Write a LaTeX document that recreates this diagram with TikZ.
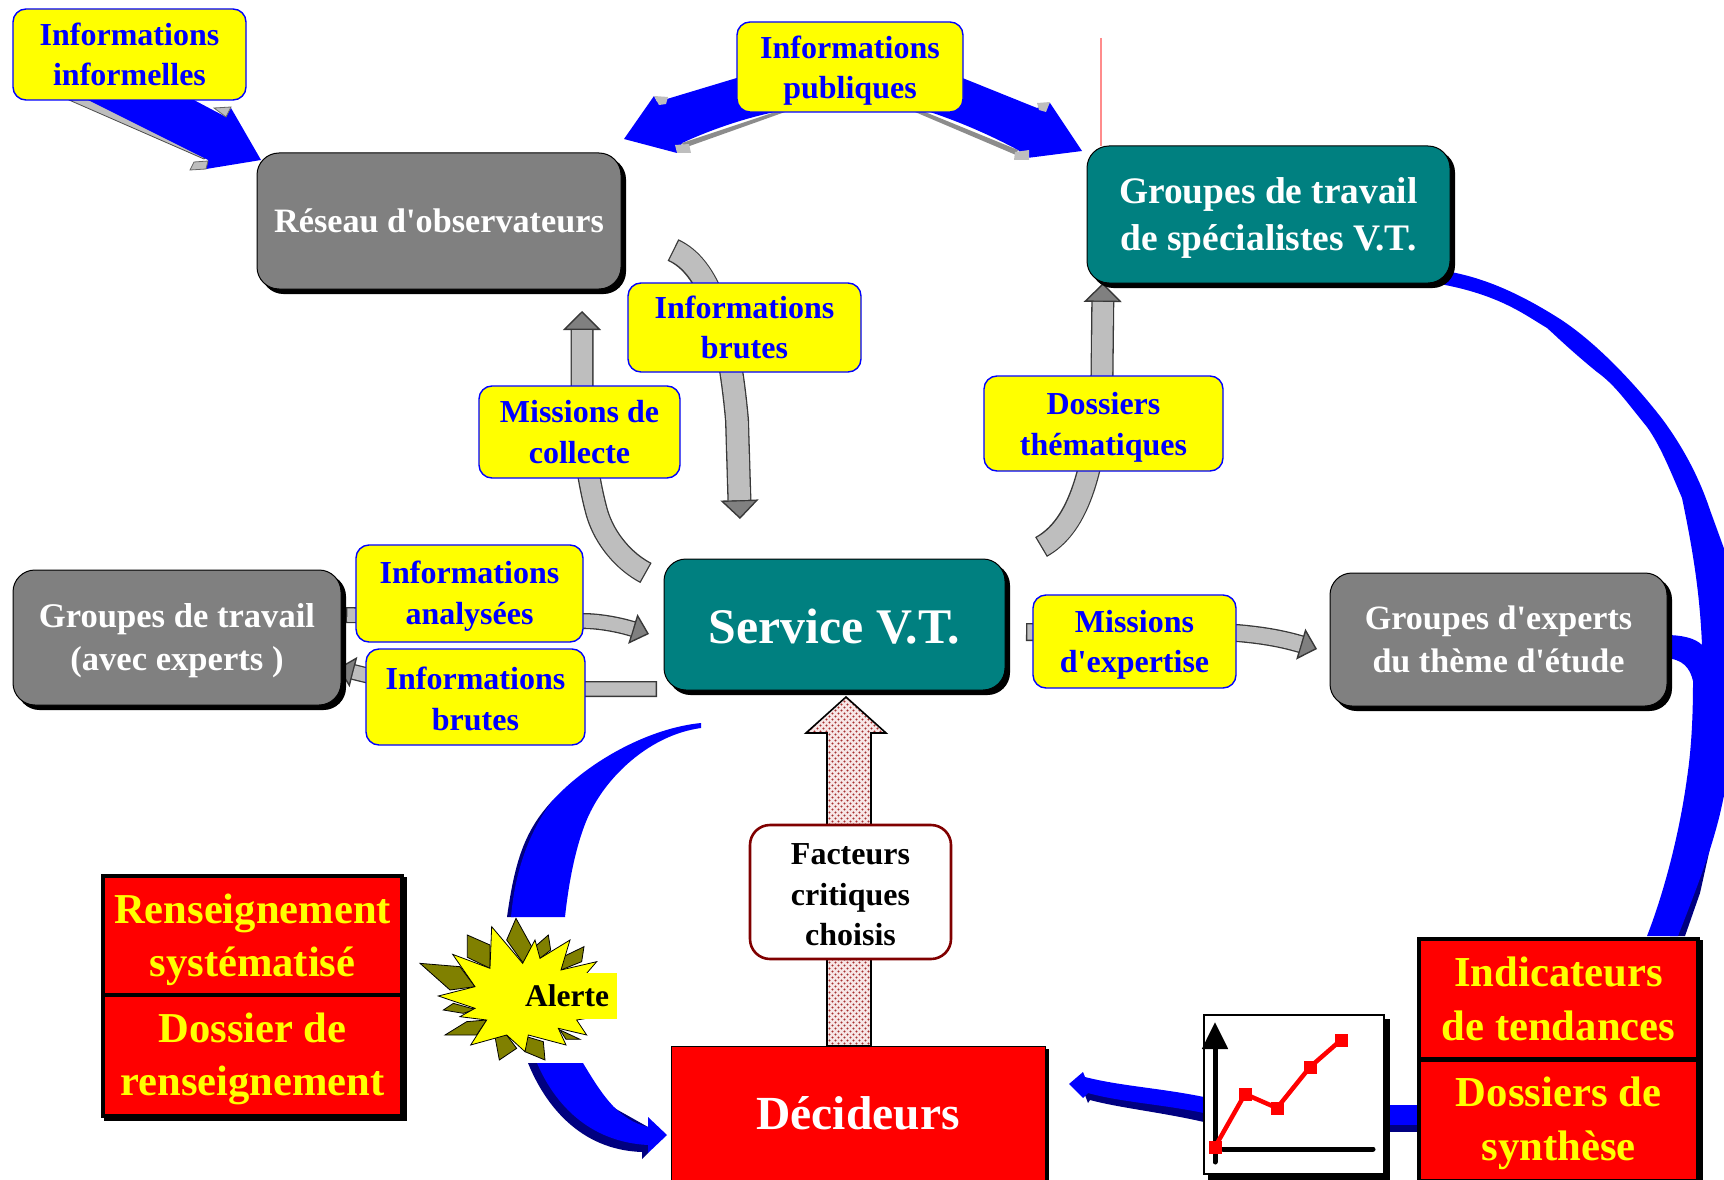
\documentclass[tikz,border=0pt]{standalone}
\usepackage{fontspec}
\setmainfont{Liberation Serif}[Ligatures=TeXOff]
\usetikzlibrary{arrows.meta,shadows,backgrounds,patterns}
\definecolor{vtteal}{HTML}{008080}
\definecolor{vtgray}{HTML}{808080}
\definecolor{vtblue}{HTML}{0000FF}
\definecolor{vtyellow}{HTML}{FFFF00}
\definecolor{vtred}{HTML}{FF0000}
\definecolor{vtblock}{HTML}{BEBEBE}
\definecolor{vtnavy}{HTML}{000080}
\definecolor{vtolive}{HTML}{808000}
\definecolor{vtmaroon}{HTML}{800000}
\definecolor{vtpink}{HTML}{F7E6E6}
\definecolor{vtdot}{HTML}{A83030}
\pgfdeclarepatterninherentlycolored{vtdots}{\pgfpoint{-0.5pt}{-0.5pt}}{\pgfpoint{6.5pt}{6.5pt}}{\pgfpoint{6pt}{6pt}}{%
  \pgfsetfillcolor{vtdot}%
  \pgfpathcircle{\pgfpoint{1.5pt}{1.5pt}}{1.1pt}\pgfusepath{fill}%
  \pgfpathcircle{\pgfpoint{4.5pt}{4.5pt}}{1.1pt}\pgfusepath{fill}%
}
\newcommand\tp[1]{\rule{0pt}{#1pt}}
\tikzset{
  every node/.style={align=center,inner sep=0pt,font=\bfseries},
  tag/.style={draw=vtblue,fill=vtyellow,text=vtblue,line width=1.4pt,rounded corners=13pt,
    font=\bfseries\fontsize{32}{40.5}\selectfont},
  bigbox/.style={rounded corners=22pt,draw=black,line width=1pt,text=white,
    copy shadow={shadow xshift=4.5pt,shadow yshift=-4.5pt,fill=black,draw=black}},
  tealbox/.style={bigbox,fill=vtteal},
  graybox/.style={bigbox,fill=vtgray},
  redbox/.style={draw=black,fill=vtred,text=vtyellow,line width=4pt,
    font=\bfseries\fontsize{42.6}{53.5}\selectfont},
  blueshape/.style={fill=vtblue,draw=none},
  navyshape/.style={fill=vtnavy,draw=none},
  tabshape/.style={fill=vtblock,draw=black!60,line width=.8pt},
  starback/.style={fill=vtolive,draw=black,line width=.8pt},
  starfront/.style={fill=vtyellow,draw=black,line width=.8pt},
  gouter/.style={draw=black!78},
  ginner/.style={draw=vtblock}
}
\newcommand\blockarrow[4]{%
  \draw[gouter,line width=#1pt,-{Triangle[length=#2pt,width=#3pt,fill=vtgray,line width=1.4pt]}] #4;
  \draw[ginner,line width=#1pt-2.6pt,shorten <=1.3pt,shorten >=#2pt] #4;}
\begin{document}
\begin{tikzpicture}[x=1pt,y=-1pt]
\useasboundingbox (0,0) rectangle (1724,1180);
\clip (0,0) rectangle (1724,1180);

% ---------- labels and boxes
\node[tag,minimum width=233pt,minimum height=91pt] (informelles) at (129.5,54.5) {Informations\\informelles};
\node[tag,minimum width=226pt,minimum height=90pt] (publiques) at (850,67) {\tp{30}Informations\\publiques};
\node[graybox,minimum width=364pt,minimum height=136pt,font=\bfseries\fontsize{34.2}{42}\selectfont] (reseau) at (439,221) {Réseau d'observateurs};
\node[tealbox,minimum width=363pt,minimum height=137pt,font=\bfseries\fontsize{37.4}{47}\selectfont] (specialistes) at (1268.5,214.5) {\tp{33.5}Groupes de travail\\de spécialistes V.T.};
\node[tag,minimum width=233pt,minimum height=89pt] (brutesa) at (744.5,327.5) {Informations\\brutes};
\node[tag,minimum width=201pt,minimum height=92pt] (collecte) at (579.5,432) {Missions de\\collecte};
\node[tag,minimum width=239pt,minimum height=95pt] (thematiques) at (1103.5,423.5) {\tp{30}Dossiers\\thématiques};
\node[graybox,minimum width=328pt,minimum height=135pt,font=\bfseries\fontsize{34.6}{43}\selectfont] (avecexperts) at (177,637.5) {\tp{30}Groupes de travail\\(avec experts )};
\node[tag,minimum width=227pt,minimum height=97pt] (analysees) at (469.5,593.5) {\tp{28}Informations\\analysées};
\node[tag,minimum width=219pt,minimum height=96pt] (brutesb) at (475.5,697) {\tp{26}Informations\\brutes};
\node[tealbox,minimum width=341pt,minimum height=131pt,font=\bfseries\fontsize{49.8}{56}\selectfont] (service) at (834.5,624.5) {\tp{38}Service V.T.};
\node[tag,minimum width=203pt,minimum height=93pt] (expertise) at (1134.5,641.5) {\tp{29}Missions\\d'expertise};
\node[graybox,minimum width=337pt,minimum height=133pt,font=\bfseries\fontsize{34.1}{43}\selectfont] (experts) at (1498.5,639.5) {Groupes d'experts\\du thème d'étude};
\node[draw=vtmaroon,fill=white,line width=2.6pt,rounded corners=20pt,text=black,minimum width=201pt,minimum height=134pt,font=\bfseries\fontsize{32}{40.5}\selectfont] (facteurs) at (850.5,892) {\tp{27}Facteurs\\critiques\\choisis};
\node[redbox,minimum width=299pt,minimum height=120pt,copy shadow={shadow xshift=3pt,shadow yshift=-3pt,fill=black,draw=black}] (renseignement) at (252.5,936) {\tp{37}Renseignement\\systématisé};
\node[redbox,minimum width=299pt,minimum height=121pt,copy shadow={shadow xshift=3pt,shadow yshift=-3pt,fill=black,draw=black}] (dossier) at (252.5,1055) {\tp{37}Dossier de\\renseignement};
\node[draw=black,fill=vtred,text=white,line width=1pt,minimum width=374pt,minimum height=134pt,font=\bfseries\fontsize{47.5}{56}\selectfont,copy shadow={shadow xshift=3pt,shadow yshift=-3pt,fill=black,draw=black}] (decideurs) at (858,1113) {Décideurs};
\node[draw=black,fill=white,line width=2pt,minimum width=180pt,minimum height=159pt,copy shadow={shadow xshift=5pt,shadow yshift=-5pt,fill=black,draw=black}] (graphe) at (1293.5,1094.5) {};
\node[redbox,minimum width=279pt,minimum height=120pt,font=\bfseries\fontsize{42.7}{54}\selectfont,copy shadow={shadow xshift=3pt,shadow yshift=-3pt,fill=black,draw=black}] (indicateurs) at (1558.5,999) {Indicateurs\\de tendances};
\node[redbox,minimum width=279pt,minimum height=121pt,font=\bfseries\fontsize{42.7}{54}\selectfont,copy shadow={shadow xshift=3pt,shadow yshift=-3pt,fill=black,draw=black}] (synthese) at (1558.5,1120) {\tp{37}Dossiers de\\synthèse};

% ---------- free ends of the connectors
\coordinate (brutesStart) at (673,250);
\coordinate (brutesEnd) at (740,519);
\coordinate (collecteStart) at (646,573);
\coordinate (collecteEnd) at (582,311);
\coordinate (dossiersStart) at (1041,547);
\coordinate (dossiersEnd) at (1103,283);
\coordinate (expertiseStart) at (1026,632);
\coordinate (expertiseEnd) at (1317,649);
\coordinate (analyseesStart) at (346,615);
\coordinate (analyseesEnd) at (649,634);
\coordinate (brutesbStart) at (657,689);
\coordinate (brutesbEnd) at (338,668);
\coordinate (facteursTip) at (846,697);
\coordinate (facteursFoot) at (849,1046);

% ---------- chart inside the framed graph
\draw[line width=5pt,line cap=round,-{Triangle[length=27pt,width=25pt]}] (1215,1162) -- (1215,1022);
\draw[line width=5pt,line cap=round] (1223,1149) -- (1373,1149);
\draw[vtred,line width=4.5pt] (1215,1147) -- (1245,1094) -- (1277,1108) -- (1310,1067) -- (1341,1040);
\foreach \p in {(1215,1147),(1245,1094),(1277,1108),(1310,1067),(1341,1040)}
  \fill[vtred] \p ++(-6.5,-6.5) rectangle ++(13,13);

% ---------- starburst with its label
\begin{scope}[shift={(380,720)},x=0.33333pt,y=-0.33333pt]
  \draw[starback] (120,730) -- (240,740) -- (285,800) -- (210,810) -- cycle;
  \draw[starback] (262,645) -- (330,675) -- (330,745) -- (262,712) -- cycle;
  \draw[starback] (408,595) -- (455,680) -- (430,730) -- (380,660) -- cycle;
  \draw[starback] (465,680) -- (505,645) -- (512,690) -- (480,715) -- cycle;
  \draw[starback] (550,710) -- (612,680) -- (605,725) -- (543,750) -- cycle;
  \draw[starback] (195,945) -- (260,905) -- (320,900) -- (290,945) -- cycle;
  \draw[starback] (190,870) -- (220,850) -- (285,868) -- (250,880) -- cycle;
  \draw[starback] (345,950) -- (380,945) -- (410,985) -- (358,1020) -- cycle;
  \draw[starback] (440,950) -- (490,965) -- (495,1020) -- (435,995) -- cycle;
  \draw[starback] (540,930) -- (600,958) -- (558,958) -- cycle;
  \draw[starfront] (335,620) -- (428,730) -- (465,660) -- (480,715) -- (570,660) -- (543,750) -- (650,725) -- (620,760) -- (620,895) -- (590,900) -- (620,945) -- (535,925) -- (558,975) -- (445,945) -- (435,995) -- (380,945) -- (272,975) -- (320,900) -- (240,890) -- (285,865) -- (175,828) -- (285,800) -- (218,703) -- (330,745) -- cycle;
\end{scope}
\node[fill=vtyellow,minimum width=93pt,minimum height=46pt,font=\bfseries\fontsize{31.5}{36}\selectfont] (alerte) at (567,996) {Alerte};
\fill[vtyellow] (alerte.north east) rectangle ++(3.5,46);

% ---------- red marker line
\draw[red!45,line width=1.3pt] (1101,38) -- (1101,146);

% ---------- connectors, all behind the nodes
\begin{scope}[on background layer]
  % large blue arc: specialists -> indicators, with a branch to the experts
  \fill[vtnavy] (1723,790) -- (1700,893) -- (1685,936) -- (1670,936) -- (1700,860) -- cycle;
  \fill[blueshape] (1445,271) .. controls (1490,278) and (1530,300) .. (1560,319)
     .. controls (1600,345) and (1640,390) .. (1663,420)
     .. controls (1685,450) and (1700,480) .. (1710,510)
     -- (1730,565) -- (1730,770) -- (1723,800)
     .. controls (1715,840) and (1700,880) .. (1678,936)
     -- (1647,936)
     .. controls (1665,890) and (1680,830) .. (1687,778)
     .. controls (1692,745) and (1693,710) .. (1693,681)
     .. controls (1690,668) and (1683,659) .. (1665,658)
     -- (1665,635)
     .. controls (1682,635) and (1695,638) .. (1702,645)
     .. controls (1700,600) and (1695,560) .. (1682,498)
     .. controls (1670,470) and (1660,445) .. (1647,427)
     .. controls (1625,400) and (1615,385) .. (1597,372)
     .. controls (1570,350) and (1555,335) .. (1547,328)
     .. controls (1525,315) and (1500,295) .. (1440,284) -- cycle;

  % left blue arc, upper part
  \fill[vtnavy] (507,917) .. controls (515,860) and (525,830) .. (553,800) -- (556,800) .. controls (530,840) and (518,870) .. (514,917) -- cycle;
  \fill[blueshape] (701,723) .. controls (650,728) and (590,760) .. (553,800)
     .. controls (530,830) and (515,870) .. (511,917) -- (565,917)
     .. controls (570,870) and (580,830) .. (593,807)
     .. controls (610,775) and (650,735) .. (701,728) -- cycle;
  % left blue arc, lower part
  \fill[vtnavy] (528,1063) .. controls (545,1105) and (580,1150) .. (642,1152) -- (642,1159) -- (648,1153) -- (648,1127) -- (600,1100) -- (560,1063) -- cycle;
  \fill[blueshape] (537,1063) .. controls (555,1105) and (590,1142) .. (648,1145)
     -- (648,1153) -- (648,1117) -- (667,1135) -- (648,1153) -- (648,1127)
     .. controls (620,1120) and (605,1100) .. (583,1063) -- cycle;

  % blue arrow: graph -> deciders
  \fill[vtnavy] (1204,1122) .. controls (1160,1112) and (1120,1108) .. (1090,1100) -- (1088,1103) -- (1083,1090) -- (1204,1100) -- cycle;
  \fill[blueshape] (1204,1097) .. controls (1160,1088) and (1120,1086) .. (1085,1077) -- (1083,1072) -- (1069,1084) -- (1083,1098) -- (1088,1093)
     .. controls (1120,1102) and (1160,1104) .. (1204,1113) -- cycle;
  % blue link: synthesis -> graph
  \fill[vtnavy] (graphe.east |- 0,1105) rectangle (1420,1132);
  \fill[blueshape] (graphe.east |- 0,1105) rectangle (1420,1125);

  % informal information -> observers
  \fill[vtblock,draw=black!70,line width=.8pt] (69,100) -- (204,159) -- (208,155) -- (90,100) -- cycle;
  \fill[blueshape] (86,99) -- (208,160) -- (206,169) -- (261,160) -- (231,108) -- (226,117) -- (192,99) -- cycle;
  \draw[tabshape] (214,108) -- (231,107) -- (226,117) -- cycle;
  \draw[tabshape] (190,170) -- (194,162) -- (208,161) -- (206,169) -- cycle;

  % public information -> both sides
  \fill[black!45] (682,143) -- (775,112) -- (785,112) -- (684,148) -- cycle;
  \fill[black!45] (925,112) -- (1018,150) -- (1016,155) -- (915,112) -- cycle;
  \fill[blueshape] (740,77) -- (657,102) -- (654,96) -- (624,139) -- (677,153) -- (682,143)
     .. controls (710,130) and (745,118) .. (775,112) -- (800,100) -- cycle;
  \fill[blueshape] (960,77) -- (1037,108) -- (1050,103) -- (1082,151) -- (1027,158) -- (1018,150)
     .. controls (990,135) and (960,122) .. (930,112) -- (900,100) -- cycle;
  \draw[tabshape,draw=none] (654,96) -- (668,97) -- (666,104) -- (659,105) -- cycle;
  \draw[tabshape,draw=none] (675,145) -- (689,144) -- (691,153) -- (677,153) -- cycle;
  \draw[tabshape,draw=none] (1037,103) -- (1050,102) -- (1046,112) -- (1039,110) -- cycle;
  \draw[tabshape,draw=none] (1015,152) -- (1029,150) -- (1029,160) -- (1014,160) -- cycle;

  % grey block arrows
  \blockarrow{24}{19}{38}{(brutesStart) .. controls (708,266) and (728,320) .. (737,420) -- (brutesEnd)}
  \blockarrow{23}{19}{38}{(collecteStart) .. controls (625,562) and (605,540) .. (597,513) .. controls (592,495) and (587,470) .. (584,440) -- (582,400) -- (collecteEnd)}
  \blockarrow{23}{19}{38}{(dossiersStart) .. controls (1075,528) and (1095,480) .. (1102,375) -- (dossiersEnd)}
  \blockarrow{18}{17}{32}{(expertiseStart) -- (1237,633) .. controls (1260,635) and (1280,638) .. (expertiseEnd)}
  \blockarrow{16}{17}{31}{(analyseesStart) -- (583,621) .. controls (600,621) and (620,625) .. (analyseesEnd)}
  \blockarrow{16}{16}{31}{(brutesbStart) -- (500,689) .. controls (440,689) and (400,684) .. (brutesbEnd)}

  % decision factors -> service, dotted
  \draw[preaction={fill=vtpink},pattern=vtdots,draw=black,line width=1.6pt,line join=miter]
     (facteursFoot -| 827,0) -- (827,733) -- (806,733) -- (facteursTip) -- (886,733) -- (871,733) -- (facteursFoot -| 871,0) -- cycle;
\end{scope}
\end{tikzpicture}
\end{document}
